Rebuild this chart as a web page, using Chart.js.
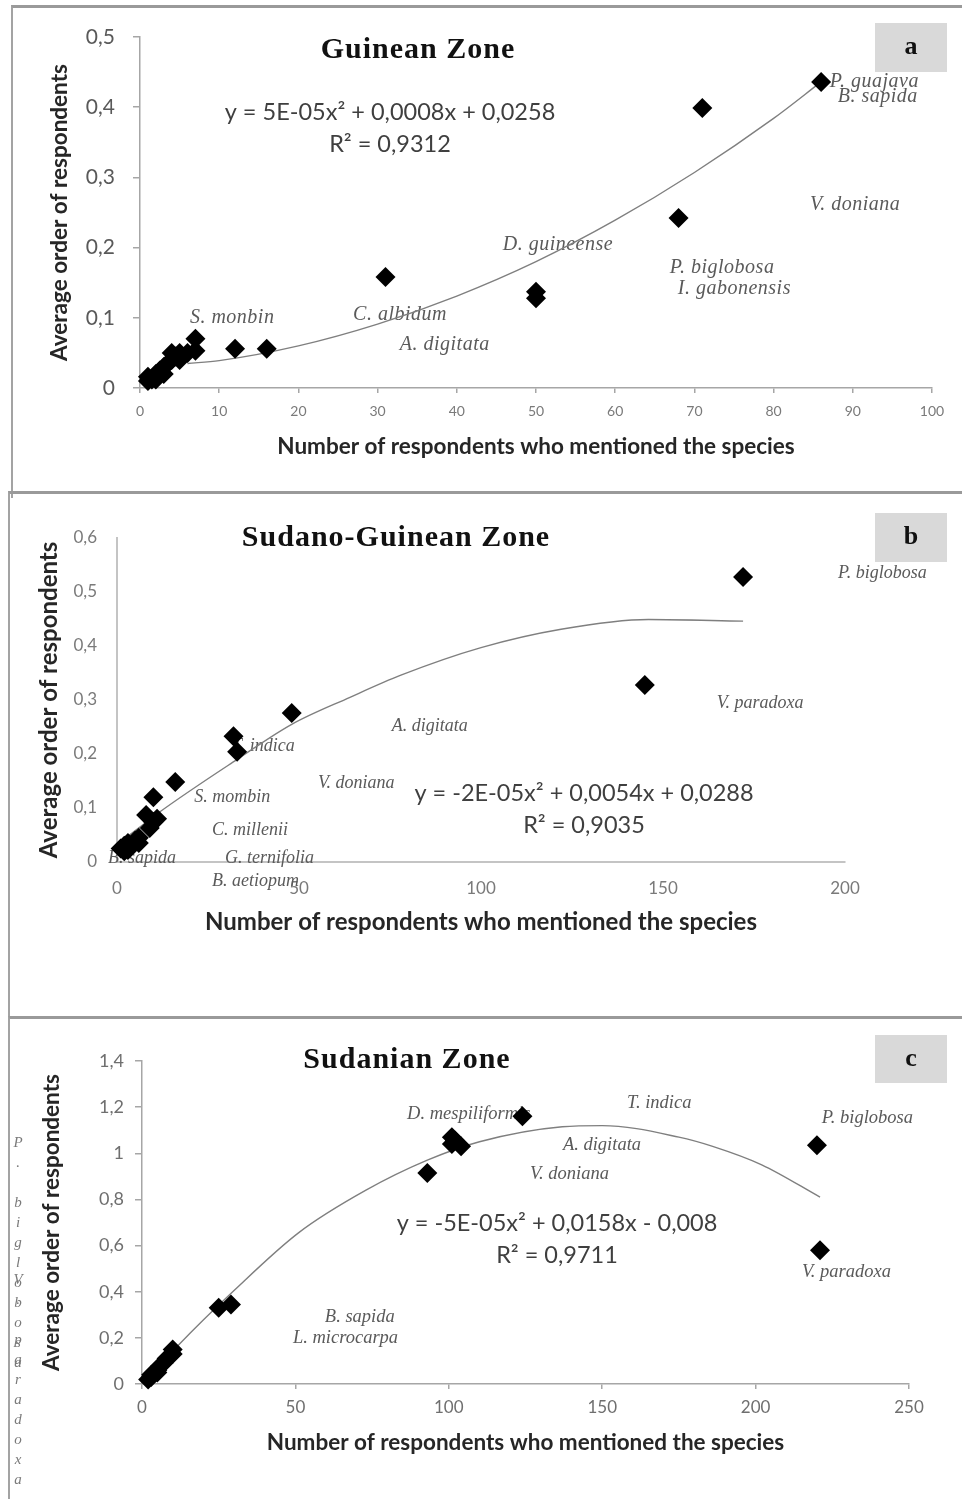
<!DOCTYPE html>
<html>
<head>
<meta charset="utf-8">
<title>Average order vs number of respondents</title>
<script src="https://cdn.jsdelivr.net/npm/chart.js@4.4.1/dist/chart.umd.min.js"></script>
<style>
  body { margin: 0; background: #fff; }
  #page { position: relative; width: 962px; height: 1499px; overflow: hidden; }
  canvas { position: absolute; left: 0; }
  .frame { position: absolute; right: -6px; border-left: 2px solid #a3a3a3; border-top: 3px solid #9a9a9a; }
</style>
</head>
<body>
<div id="page">
  <div class="frame" style="left:11px;top:5px;height:490px"></div>
  <div class="frame" style="left:8px;top:491px;height:530px"></div>
  <div class="frame" style="left:8px;top:1016px;height:490px"></div>
  <canvas id="zoneA" width="962" height="492" style="top:0"></canvas>
  <canvas id="zoneB" width="962" height="525" style="top:492px"></canvas>
  <canvas id="zoneC" width="962" height="482" style="top:1017px"></canvas>
</div>
<script>
// ---------- a : Guinean zone
const guineanCount = [1, 1, 1.5, 2, 2, 2.5, 3, 3, 3.5, 4, 4, 4.5, 5, 5, 6, 7, 7, 12, 16, 31, 50, 50, 68, 71, 86];
const guineanOrder = [0.01, 0.016, 0.012, 0.02, 0.012, 0.025, 0.03, 0.02, 0.035, 0.04, 0.05, 0.045, 0.05, 0.04, 0.05, 0.07, 0.053, 0.056, 0.056, 0.158, 0.137, 0.128, 0.242, 0.399, 0.436];
const guineanFitX = [6, 10, 20, 30, 40, 50, 60, 70, 80, 86];
const guineanFitY = [0.035, 0.039, 0.06, 0.091, 0.131, 0.18, 0.239, 0.307, 0.384, 0.436];
const guineanXTicks = [0, 10, 20, 30, 40, 50, 60, 70, 80, 90, 100];
const guineanYTicks = [0, 0.1, 0.2, 0.3, 0.4, 0.5];
const guineanYLabels = ['0', '0,1', '0,2', '0,3', '0,4', '0,5'];
const guineanSpecies = ['P. guajava', 'B. sapida', 'V. doniana', 'D. guineense', 'P. biglobosa', 'I. gabonensis', 'C. albidum', 'A. digitata', 'S. monbin'];
const guineanSpeciesX = [87.1, 88.1, 84.6, 45.8, 66.9, 67.9, 26.9, 32.8, 6.3];
const guineanSpeciesY = [0.436, 0.415, 0.261, 0.204, 0.171, 0.142, 0.104, 0.061, 0.1];

// ---------- b : Sudano-Guinean zone
const sudGuiCount = [1, 2, 2, 3, 3, 4, 5, 6, 6, 8, 10, 10, 11, 9, 16, 32, 33, 48, 145, 172];
const sudGuiOrder = [0.025, 0.03, 0.02, 0.035, 0.022, 0.03, 0.04, 0.045, 0.035, 0.087, 0.12, 0.074, 0.08, 0.063, 0.148, 0.233, 0.204, 0.276, 0.328, 0.528];
const sudGuiFitX = [1, 12, 33, 48, 64, 78, 100, 122, 146, 172];
const sudGuiFitY = [0.037, 0.094, 0.19, 0.255, 0.305, 0.346, 0.397, 0.431, 0.449, 0.446];
const sudGuiXTicks = [0, 50, 100, 150, 200];
const sudGuiYTicks = [0, 0.1, 0.2, 0.3, 0.4, 0.5, 0.6];
const sudGuiYLabels = ['0', '0,1', '0,2', '0,3', '0,4', '0,5', '0,6'];
const sudGuiSpecies = ['P. biglobosa', 'V. paradoxa', 'A. digitata', 'T. indica', 'V. doniana', 'S. mombin', 'C. millenii', 'B. sapida', 'G. ternifolia', 'B. aetiopum'];
const sudGuiSpeciesX = [198.1, 164.8, 75.5, 31.6, 55.2, 21.2, 26.1, -2.5, 29.7, 26.1];
const sudGuiSpeciesY = [0.535, 0.294, 0.252, 0.215, 0.146, 0.12, 0.059, 0.006, 0.006, -0.035];

// ---------- c : Sudanian zone
const sudanCount = [2, 3, 3, 4, 5, 5, 6, 7, 8, 9, 10, 10, 25, 29, 93, 101, 101, 102, 104, 124, 220, 221];
const sudanOrder = [0.02, 0.03, 0.04, 0.05, 0.06, 0.05, 0.08, 0.09, 0.11, 0.12, 0.15, 0.13, 0.33, 0.345, 0.915, 1.07, 1.04, 1.055, 1.03, 1.16, 1.035, 0.58];
const sudanFitX = [2, 12, 30, 51, 73, 93, 110, 137, 150, 175, 186, 202, 221];
const sudanFitY = [0.023, 0.17, 0.405, 0.655, 0.84, 0.97, 1.05, 1.115, 1.12, 1.07, 1.03, 0.95, 0.81];
const sudanXTicks = [0, 50, 100, 150, 200, 250];
const sudanYTicks = [0, 0.2, 0.4, 0.6, 0.8, 1, 1.2, 1.4];
const sudanYLabels = ['0', '0,2', '0,4', '0,6', '0,8', '1', '1,2', '1,4'];
const sudanSpecies = ['D. mespiliformis', 'T. indica', 'P. biglobosa', 'A. digitata', 'V. doniana', 'V. paradoxa', 'B. sapida', 'L. microcarpa'];
const sudanSpeciesX = [86.4, 158.1, 221.6, 137.2, 126.5, 215.1, 59.6, 49.2];
const sudanSpeciesY = [1.169, 1.216, 1.152, 1.035, 0.909, 0.485, 0.29, 0.199];

const xTitle = 'Number of respondents who mentioned the species';
const yTitle = 'Average order of respondents';

// text drawn under the datasets: letter box, zone title, equation, species names
const panelDecor = {
  id: 'panelDecor',
  beforeDatasetsDraw(chart, args, o) {
    const { ctx } = chart;
    const sx = chart.scales.x, sy = chart.scales.y;
    ctx.save();
    ctx.fillStyle = '#d9d9d9';
    ctx.fillRect(o.box[0], o.box[1], o.box[2], o.box[3]);
    ctx.fillStyle = '#111';
    ctx.textAlign = 'center';
    ctx.textBaseline = 'middle';
    ctx.font = 'bold 26px "Liberation Serif"';
    ctx.fillText(o.letter, o.box[0] + o.box[2] / 2, o.box[1] + o.box[3] / 2);

    ctx.font = 'bold 30px "Liberation Serif"';
    ctx.letterSpacing = '1px';
    ctx.fillText(o.title, o.titleAt[0], o.titleAt[1]);
    ctx.letterSpacing = '0px';

    ctx.fillStyle = '#3f3f3f';
    ctx.font = '23.5px Lato';
    ctx.fillText(o.equation, o.eqAt[0], o.eqAt[1]);
    ctx.fillText(o.r2, o.eqAt[0], o.eqAt[1] + 32);

    ctx.fillStyle = '#5a5a5a';
    ctx.font = o.nameFont;
    ctx.letterSpacing = o.nameSpacing || '0px';
    ctx.textAlign = 'left';
    o.names.forEach((n, i) => {
      ctx.fillText(n, sx.getPixelForValue(o.nameX[i]), sy.getPixelForValue(o.nameY[i]));
    });
    ctx.letterSpacing = '0px';

    // stray vertical labels in the left margin of panel c
    (o.vertical || []).forEach(v => {
      ctx.fillStyle = '#7a7a7a';
      ctx.font = 'italic 15px "Liberation Serif"';
      ctx.textAlign = 'center';
      [...v.text].forEach((ch, k) => ctx.fillText(ch, v.x, v.y + k * 20));
    });
    ctx.restore();
  }
};

function makeChart(id, p) {
  const axisColor = p.axisColor;
  return new Chart(document.getElementById(id), {
    type: 'scatter',
    data: {
      datasets: [
        {
          data: p.xs.map((x, i) => ({ x, y: p.ys[i] })),
          pointStyle: 'rectRot', pointRadius: 10, pointHoverRadius: 10,
          backgroundColor: '#000', borderColor: '#000', borderWidth: 0,
          clip: false, order: 1
        },
        {
          data: p.fitX.map((x, i) => ({ x, y: p.fitY[i] })),
          showLine: true, pointRadius: 0, borderColor: '#7f7f7f', borderWidth: 1.4,
          cubicInterpolationMode: 'monotone', clip: false, order: 2
        }
      ]
    },
    options: {
      responsive: false,
      animation: false,
      devicePixelRatio: 1,
      layout: { padding: p.pad },
      plugins: { legend: { display: false }, tooltip: { enabled: false }, panelDecor: p.decor },
      scales: {
        x: {
          type: 'linear', min: p.xTicks[0], max: p.xTicks[p.xTicks.length - 1],
          afterBuildTicks: s => { s.ticks = p.xTicks.map(v => ({ value: v })); },
          afterFit: s => { s.height = p.xHeight; },
          grid: { display: p.ticks, drawOnChartArea: false, drawTicks: true, tickLength: 5, color: axisColor, lineWidth: 1.5 },
          border: { display: true, color: axisColor, width: p.axisWidth },
          ticks: { autoSkip: false, maxRotation: 0, padding: p.xTickPad, color: p.xTickColor, font: { family: 'Lato', size: p.xTickSize } },
          title: { display: true, text: xTitle, color: '#262626', font: { family: 'Lato', size: p.titleSize, weight: 'bold' }, padding: { top: 0, bottom: p.xTitlePad } }
        },
        y: {
          type: 'linear', min: p.yTicks[0], max: p.yTicks[p.yTicks.length - 1],
          afterBuildTicks: s => { s.ticks = p.yTicks.map(v => ({ value: v })); },
          afterFit: s => { s.width = p.yWidth; },
          grid: { display: p.ticks, drawOnChartArea: false, drawTicks: true, tickLength: 7, color: axisColor, lineWidth: 1.5 },
          border: { display: true, color: axisColor, width: p.axisWidth },
          ticks: { padding: p.yTickPad, color: p.yTickColor, font: { family: 'Lato', size: p.yTickSize }, callback: (v, i) => p.yLabels[i] },
          title: { display: true, text: yTitle, color: '#262626', font: { family: 'Lato', size: p.titleSize, weight: 'bold' }, padding: { top: p.yTitlePad, bottom: 0 } }
        }
      }
    },
    plugins: [panelDecor]
  });
}

makeChart('zoneA', {
  xs: guineanCount, ys: guineanOrder, fitX: guineanFitX, fitY: guineanFitY,
  xTicks: guineanXTicks, yTicks: guineanYTicks, yLabels: guineanYLabels,
  pad: { left: 10, right: 30, top: 37, bottom: 32 }, xHeight: 72, yWidth: 130,
  ticks: true, axisColor: '#a6a6a6', axisWidth: 1.5, titleSize: 22.5,
  xTickPad: 10, xTickSize: 14, xTickColor: '#7a7a7a', xTitlePad: 0,
  yTickPad: 18, yTickSize: 21, yTickColor: '#595959', yTitlePad: 36,
  decor: {
    box: [875, 23, 72, 49], letter: 'a', title: 'Guinean Zone', titleAt: [418, 50],
    equation: 'y = 5E-05x² + 0,0008x + 0,0258', r2: 'R² = 0,9312', eqAt: [390, 112],
    nameFont: 'italic 20px "Liberation Serif"', nameSpacing: '0.5px',
    names: guineanSpecies, nameX: guineanSpeciesX, nameY: guineanSpeciesY
  }
});

makeChart('zoneB', {
  xs: sudGuiCount, ys: sudGuiOrder, fitX: sudGuiFitX, fitY: sudGuiFitY,
  xTicks: sudGuiXTicks, yTicks: sudGuiYTicks, yLabels: sudGuiYLabels,
  pad: { left: 10, right: 117, top: 46, bottom: 75 }, xHeight: 80, yWidth: 107,
  ticks: false, axisColor: '#c4c4c4', axisWidth: 2, titleSize: 24,
  xTickPad: 11, xTickSize: 17, xTickColor: '#7a7a7a', xTitlePad: 5,
  yTickPad: 13, yTickSize: 17, yTickColor: '#7a7a7a', yTitlePad: 25,
  decor: {
    box: [875, 21, 72, 49], letter: 'b', title: 'Sudano-Guinean Zone', titleAt: [396, 46],
    equation: 'y = -2E-05x² + 0,0054x + 0,0288', r2: 'R² = 0,9035', eqAt: [584, 301],
    nameFont: 'italic 18px "Liberation Serif"',
    names: sudGuiSpecies, nameX: sudGuiSpeciesX, nameY: sudGuiSpeciesY
  }
});

makeChart('zoneC', {
  xs: sudanCount, ys: sudanOrder, fitX: sudanFitX, fitY: sudanFitY,
  xTicks: sudanXTicks, yTicks: sudanYTicks, yLabels: sudanYLabels,
  pad: { left: 10, right: 53, top: 44, bottom: 35 }, xHeight: 80, yWidth: 132,
  ticks: true, axisColor: '#a6a6a6', axisWidth: 1.5, titleSize: 22.5,
  xTickPad: 8, xTickSize: 17, xTickColor: '#6f6f6f', xTitlePad: 8,
  yTickPad: 11, yTickSize: 18, yTickColor: '#6f6f6f', yTitlePad: 28,
  decor: {
    box: [875, 18, 72, 48], letter: 'c', title: 'Sudanian Zone', titleAt: [407, 43],
    equation: 'y = -5E-05x² + 0,0158x - 0,008', r2: 'R² = 0,9711', eqAt: [557, 206],
    nameFont: 'italic 18.5px "Liberation Serif"',
    names: sudanSpecies, nameX: sudanSpeciesX, nameY: sudanSpeciesY,
    vertical: [{ text: 'P. biglobosa', x: 18, y: 126 }, { text: 'V. paradoxa', x: 18, y: 263 }]
  }
});
</script>
</body>
</html>
